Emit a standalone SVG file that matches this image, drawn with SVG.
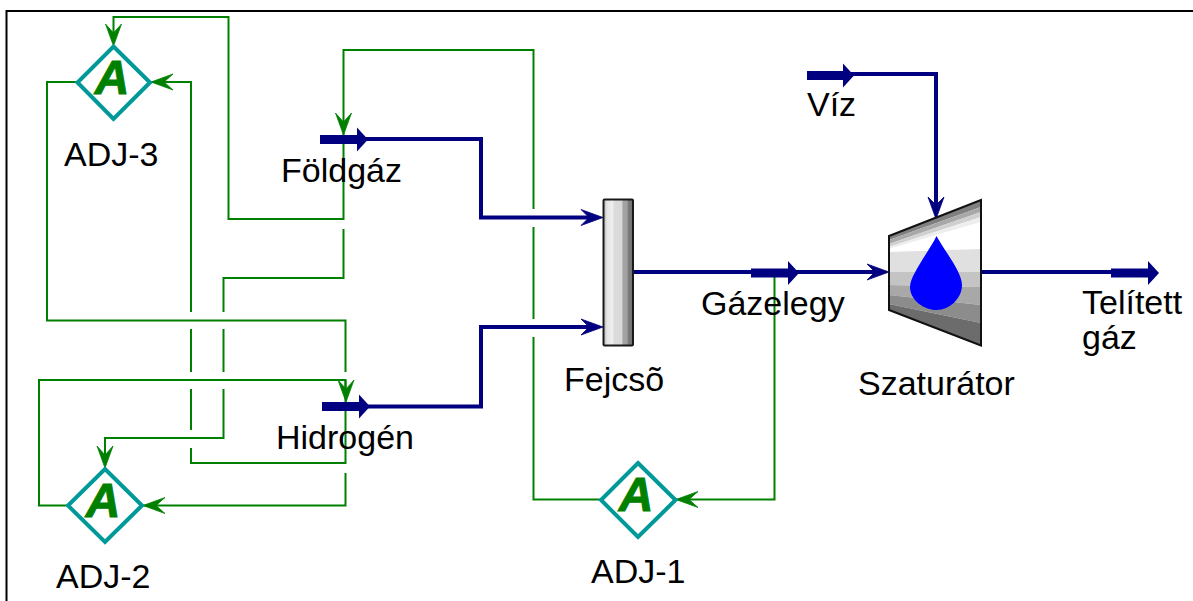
<svg xmlns="http://www.w3.org/2000/svg" width="1193" height="601" viewBox="0 0 1193 601">
<style>
text{font-family:"Liberation Sans",Arial,sans-serif;font-size:34px;fill:#000}
.g{fill:none;stroke:#008000;stroke-width:2}
.b{fill:none;stroke:#000080;stroke-width:4}
.bar{fill:#000080}
.d{fill:#fff;stroke:#009999;stroke-width:4}
.a{font-size:48px;font-weight:bold;font-style:italic;fill:#008000;stroke:#008000;stroke-width:1;text-anchor:middle}
</style>
<defs>
<linearGradient id="cyl" x1="0" x2="1" y1="0" y2="0">
<stop offset="0" stop-color="#b4b4b4"/><stop offset=".12" stop-color="#e4e4e4"/><stop offset=".3" stop-color="#f0f0f0"/><stop offset=".36" stop-color="#dcdcdc"/><stop offset=".62" stop-color="#d8d8d8"/><stop offset=".66" stop-color="#a4a4a4"/><stop offset=".8" stop-color="#a0a0a0"/><stop offset=".84" stop-color="#7c7c7c"/><stop offset="1" stop-color="#707070"/>
</linearGradient>
<path id="ga" d="M0 0L-22 -8L-13 0L-22 8Z" fill="#008000" stroke="#008000" stroke-width=".8"/>
<path id="ba" d="M0 0L-22 -8L-14 0L-22 8Z" fill="#000080" stroke="#000080" stroke-width=".8"/>
<path id="hd" d="M0 0L-11 -12V12Z" fill="#000080"/>
</defs>
<rect width="1193" height="601" fill="#fff"/>
<path d="M6.500 601V11H1193" fill="none" stroke="#000" stroke-width="2"/>
<g id="connectors">
<path class="g" d="M601 499.500H533.500V337M533.500 319V227M533.500 209V50H343.500V219H228.500V17H113.500V40"/>
<path class="g" d="M343.500 229V278H223.500V312M223.500 329V372M223.500 389V438H105V462"/>
<path class="g" d="M145 82H191V312M191 329V372M191 389V430M191 448V463H345.500V380M345.500 372V320.500H47V82H77"/>
<path class="g" d="M68 505.500H39V380H345.500V396"/>
<path class="g" d="M345.500 473V505.500H138"/>
<path class="g" d="M774.500 277V499.500H670"/>
<use href="#ga" transform="translate(113.500 46) rotate(90)"/>
<use href="#ga" transform="translate(343.500 135) rotate(90)"/>
<use href="#ga" transform="translate(346 402) rotate(90)"/>
<use href="#ga" transform="translate(105 468) rotate(90)"/>
<use href="#ga" transform="translate(151 82) rotate(180)"/>
<use href="#ga" transform="translate(143 505.500) rotate(180)"/>
<use href="#ga" transform="translate(676 499.500) rotate(180)"/>
<path class="b" d="M360 139H481V217.500H592"/>
<path class="b" d="M360 406.500H481V327H592"/>
<path class="b" d="M633 272H878"/>
<path class="b" d="M845 74H936V207"/>
<path class="b" d="M981 272H1120"/>
<use href="#ba" transform="translate(603 217.500)"/>
<use href="#ba" transform="translate(603 327)"/>
<use href="#ba" transform="translate(889 272)"/>
<use href="#ba" transform="translate(936 219) rotate(90)"/>
</g>
<g id="stream-foldgaz"><rect class="bar" x="320" y="135" width="38" height="9"/><use href="#hd" transform="translate(368 139.500)"/><text x="281" y="182">Földgáz</text></g>
<g id="stream-hidrogen"><rect class="bar" x="322" y="402" width="38" height="9"/><use href="#hd" transform="translate(370 406.500)"/><text x="276" y="449">Hidrogén</text></g>
<g id="stream-viz"><rect class="bar" x="807" y="71" width="36" height="9"/><use href="#hd" transform="translate(854 75.500)"/><text x="807" y="116">Víz</text></g>
<g id="stream-gazelegy"><rect class="bar" x="751" y="268.500" width="38" height="9"/><use href="#hd" transform="translate(799 273)"/><text x="701" y="315">Gázelegy</text></g>
<g id="stream-telitett"><rect class="bar" x="1111" y="268.500" width="38" height="9"/><use href="#hd" transform="translate(1159 273)"/><text x="1082" y="314">Telített</text><text x="1082" y="349">gáz</text></g>
<g id="adj-3"><path class="d" d="M113.500 46.500L150 82.500L113.500 119L77.500 82.500Z"/><text class="a" x="112" y="94">A</text><text x="64" y="166">ADJ-3</text></g>
<g id="adj-2"><path class="d" d="M105 469L142 505.500L105 542L68 505.500Z"/><text class="a" x="103" y="517">A</text><text x="56" y="588">ADJ-2</text></g>
<g id="adj-1"><path class="d" d="M638 463L675.500 500L638 537L601 500Z"/><text class="a" x="636" y="511">A</text><text x="591" y="583">ADJ-1</text></g>
<g id="fejcso"><rect x="603.500" y="199.500" width="29.500" height="146" rx="1" fill="url(#cyl)" stroke="#1a1a1a" stroke-width="2"/><text x="564" y="391">Fejcsõ</text></g>
<g id="szaturator">
<polygon points="889,236 981,200 981,207 889,240" fill="#808080"/>
<polygon points="889,240 981,207 981,212 889,244" fill="#a8a8a8"/>
<polygon points="889,244 981,212 981,217 889,247" fill="#d0d0d0"/>
<polygon points="889,247 981,217 981,222 889,249" fill="#eeeeee"/>
<polygon points="889,249 981,222 981,249 889,252" fill="#ffffff"/>
<polygon points="889,252 981,249 981,272 889,272" fill="#e0e0e0"/>
<polygon points="889,272 981,272 981,287 889,285" fill="#c4c4c4"/>
<polygon points="889,285 981,287 981,305 889,295" fill="#a8a8a8"/>
<polygon points="889,295 981,305 981,323 889,304" fill="#8c8c8c"/>
<polygon points="889,304 981,323 981,345 889,310" fill="#6c6c6c"/>
<polygon points="889,236 981,200 981,345.500 889,310" fill="none" stroke="#111" stroke-width="2"/>
<path d="M936.500 236C930 250 910 275 910 287C910 300 924 310 936.500 310C950 310 962 298 962 285C962 272 944 250 936.500 236Z" fill="#0000ff"/>
<text x="858" y="395">Szaturátor</text>
</g>
</svg>
